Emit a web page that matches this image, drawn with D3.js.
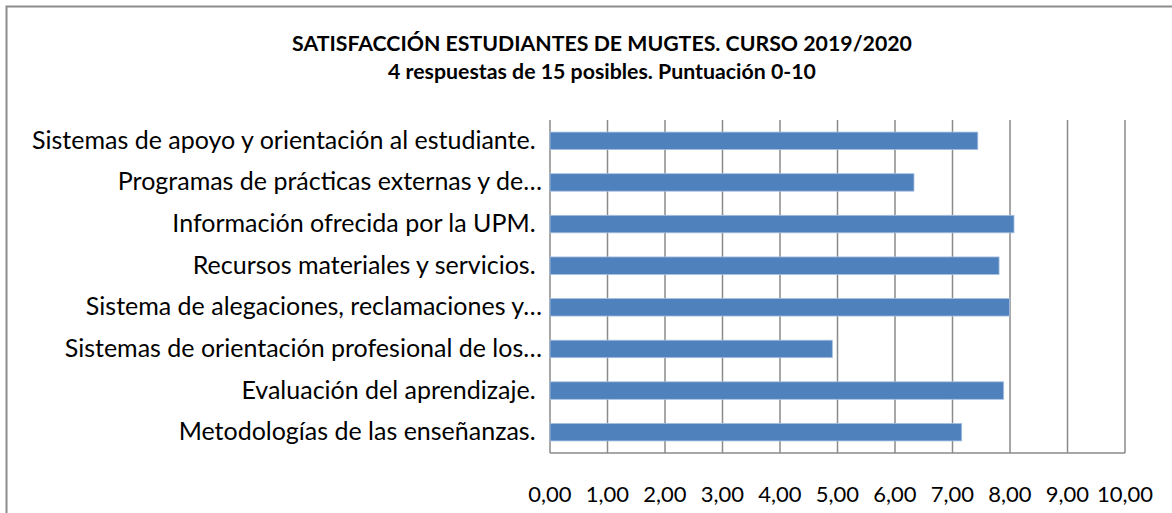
<!DOCTYPE html>
<html>
<head>
<meta charset="utf-8">
<script src="https://cdn.jsdelivr.net/npm/d3@7"></script>
<style>
  html, body { margin: 0; padding: 0; background: #fff; }
  svg { display: block; }
  text { white-space: pre; }
</style>
</head>
<body>
<svg id="chart" width="1172" height="513"></svg>
<script>
const titleLines = ["SATISFACCIÓN ESTUDIANTES DE MUGTES. CURSO 2019/2020", "4 respuestas de 15 posibles. Puntuación 0-10"];
const categories = [
  "Sistemas de apoyo y orientación al estudiante. ",
  "Programas de prácticas externas y de…",
  "Información ofrecida por la UPM. ",
  "Recursos materiales y servicios. ",
  "Sistema de alegaciones, reclamaciones y…",
  "Sistemas de orientación profesional de los…",
  "Evaluación del aprendizaje. ",
  "Metodologías de las enseñanzas. "
];
const values = [7.44, 6.33, 8.07, 7.81, 7.99, 4.91, 7.89, 7.16];
const tickValues = [0, 1, 2, 3, 4, 5, 6, 7, 8, 9, 10];

const svg = d3.select("#chart");
const font = "Lato, 'Open Sans', sans-serif";

// outer chart border
svg.append("rect")
  .attr("x", 6.5).attr("y", 6.5).attr("width", 1200).attr("height", 520)
  .attr("fill", "#fff").attr("stroke", "#8c8c8c").attr("stroke-width", 2);

// title
svg.append("g").selectAll("text").data(titleLines).join("text")
  .attr("x", 602).attr("y", (d, i) => 51 + i * 28)
  .attr("text-anchor", "middle")
  .attr("font-family", font).attr("font-weight", "bold").attr("font-size", 21.3)
  .attr("fill", "#000").text(d => d);

const plot = { left: 550, right: 1125, top: 120, bottom: 453 };

const x = d3.scaleLinear().domain([0, 10]).range([plot.left, plot.right]);
const y = d3.scaleBand().domain(categories).range([plot.top, plot.bottom]).paddingInner(0.58).paddingOuter(0.29);

// gridlines
svg.append("g").selectAll("line").data(tickValues).join("line")
  .attr("x1", d => x(d)).attr("x2", d => x(d))
  .attr("y1", plot.top).attr("y2", plot.bottom)
  .attr("stroke", "#8a8a8a").attr("stroke-width", 1.5);

// bottom line
svg.append("line")
  .attr("x1", plot.left).attr("x2", plot.right)
  .attr("y1", plot.bottom).attr("y2", plot.bottom)
  .attr("stroke", "#8a8a8a").attr("stroke-width", 1.5);

// bars
svg.append("g").selectAll("rect").data(categories).join("rect")
  .attr("x", x(0))
  .attr("y", d => y(d))
  .attr("width", (d, i) => x(values[i]) - x(0))
  .attr("height", y.bandwidth())
  .attr("fill", "#4f81bd")
  .attr("stroke", "#a7c0e0").attr("stroke-width", 0.8);

// category labels
svg.append("g").selectAll("text").data(categories).join("text")
  .attr("x", 542)
  .attr("y", d => y(d) + y.bandwidth() / 2 + 8)
  .attr("text-anchor", "end")
  .attr("font-family", font).attr("font-size", 25)
  .attr("fill", "#000").text(d => d);

// tick labels
const fmt = v => v.toFixed(2).replace(".", ",");
svg.append("g").selectAll("text").data(tickValues).join("text")
  .attr("x", d => x(d)).attr("y", 502)
  .attr("text-anchor", "middle")
  .attr("font-family", font).attr("font-size", 22)
  .attr("fill", "#000").text(d => fmt(d));
</script>
</body>
</html>
